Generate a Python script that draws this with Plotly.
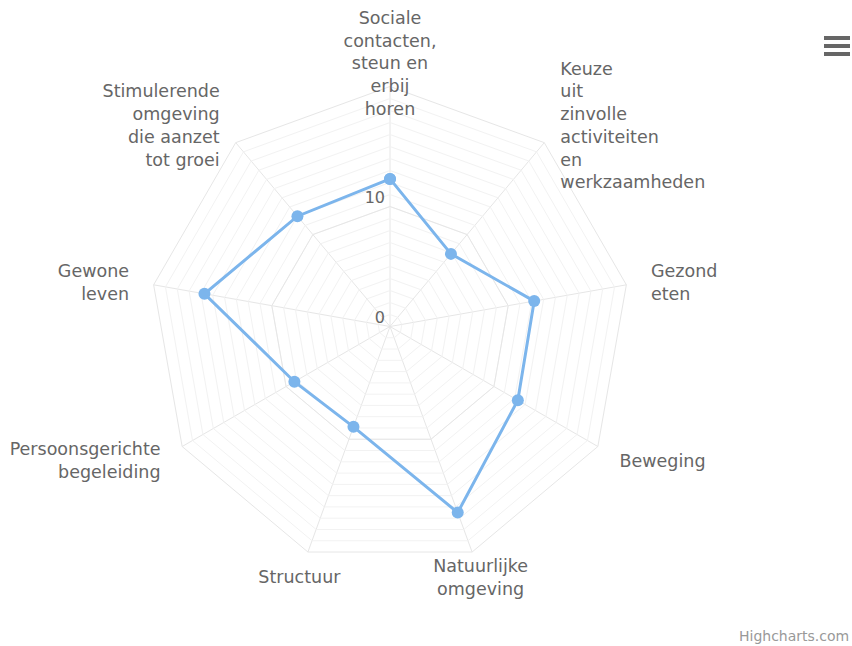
import math
import plotly.graph_objects as go

categories = [
    "Sociale<br>contacten,<br>steun en<br>erbij<br>horen",
    "Keuze<br>uit<br>zinvolle<br>activiteiten<br>en<br>werkzaamheden",
    "Gezond<br>eten",
    "Beweging",
    "Natuurlijke<br>omgeving",
    "Structuur",
    "Persoonsgerichte<br>begeleiding",
    "Gewone<br>leven",
    "Stimulerende<br>omgeving<br>die aanzet<br>tot groei",
]
values = [12.3, 7.9, 12.2, 12.3, 16.5, 8.9, 9.2, 15.7, 12.0]
major_ticks = [0, 10]
minor_ticks = list(range(0, 21))
r_max = 20

W, H = 852, 646
cx, cy, R = 390, 326.5, 240
R_lab = 265      # pixel distance of the category labels from the centre
lab_dy = 3.5     # labels sit slightly lower than plotly's "middle"
tick_dx = -5     # radial tick labels sit a little further left of the axis
label_r = r_max * R_lab / R

n = len(categories)
positions = []
for i in range(n):
    s = math.sin(math.radians(i * 360 / n))
    if abs(s) < 0.4:
        positions.append("middle center")
    elif s > 0:
        positions.append("middle right")
    else:
        positions.append("middle left")

fig = go.Figure()

# major gridline at 10
fig.add_trace(go.Scatterpolar(
    r=[10] * (n + 1), theta=categories + categories[:1],
    mode="lines", line=dict(color="#e6e6e6", width=1),
    hoverinfo="skip", showlegend=False))

# data series
fig.add_trace(go.Scatterpolar(
    r=values + values[:1], theta=categories + categories[:1],
    mode="lines+markers",
    line=dict(color="#7cb5ec", width=3),
    marker=dict(color="#7cb5ec", size=12),
    showlegend=False, hoverinfo="skip"))

# radial tick labels, on an invisible circular overlay with the same scale
fig.add_trace(go.Scatterpolar(
    r=major_ticks, theta=[categories[0]] * len(major_ticks), subplot="polar3",
    mode="text", text=[str(t) for t in major_ticks],
    textposition="top left", cliponaxis=False,
    textfont=dict(family="DejaVu Sans", size=16, color="#666666"),
    hoverinfo="skip", showlegend=False))

# category labels, on an invisible overlay polar with a larger radius
fig.add_trace(go.Scatterpolar(
    r=[label_r] * n, theta=categories, subplot="polar2",
    mode="text", text=categories,
    textposition=positions, cliponaxis=False,
    textfont=dict(family="DejaVu Sans", size=17.5, color="#666666"),
    hoverinfo="skip", showlegend=False))

ang_common = dict(type="category", categoryarray=categories,
                  direction="clockwise", rotation=90)
ang_hidden = dict(**ang_common, showline=False, showgrid=False,
                  showticklabels=False, ticks="")

fig.update_layout(
    width=W, height=H,
    paper_bgcolor="white", plot_bgcolor="white",
    margin=dict(l=0, r=0, t=0, b=0),
    font=dict(family="DejaVu Sans", color="#666666"),
    polar=dict(
        domain=dict(x=[(cx - R) / W, (cx + R) / W],
                    y=[(H - cy - R) / H, (H - cy + R) / H]),
        gridshape="linear",
        bgcolor="white",
        angularaxis=dict(
            **ang_common,
            showline=True, linecolor="#e6e6e6", linewidth=1,
            showgrid=True, gridcolor="#e6e6e6", gridwidth=1,
            ticks="", showticklabels=False,
        ),
        radialaxis=dict(
            range=[0, r_max], angle=90,
            tickvals=minor_ticks, showticklabels=False,
            showgrid=True, gridcolor="#f2f2f2", gridwidth=1,
            showline=False, ticks="",
        ),
    ),
    polar2=dict(
        domain=dict(x=[(cx - R_lab) / W, (cx + R_lab) / W],
                    y=[(H - cy - lab_dy - R_lab) / H, (H - cy - lab_dy + R_lab) / H]),
        bgcolor="rgba(0,0,0,0)",
        angularaxis=ang_hidden,
        radialaxis=dict(range=[0, label_r * 1.0001], visible=False,
                        showgrid=False, showline=False, showticklabels=False),
    ),
    polar3=dict(
        domain=dict(x=[(cx + tick_dx - R) / W, (cx + tick_dx + R) / W],
                    y=[(H - cy - R) / H, (H - cy + R) / H]),
        bgcolor="rgba(0,0,0,0)",
        angularaxis=ang_hidden,
        radialaxis=dict(range=[0, r_max], visible=False,
                        showgrid=False, showline=False, showticklabels=False),
    ),
    annotations=[dict(
        text="Highcharts.com", x=1, y=0, xref="paper", yref="paper",
        xanchor="right", yanchor="bottom", yshift=0, xshift=-1, showarrow=False,
        font=dict(family="DejaVu Sans", size=14, color="#999999"))],
    shapes=[dict(type="rect", xref="paper", yref="paper",
                 x0=824 / W, x1=850 / W, y0=1 - (y0 + 4) / H, y1=1 - y0 / H,
                 fillcolor="#666666", line=dict(width=0))
            for y0 in (36, 44, 52)],
)

fig.write_html("out.html", config={"displayModeBar": False},
               post_script="document.body.style.margin='0';")
